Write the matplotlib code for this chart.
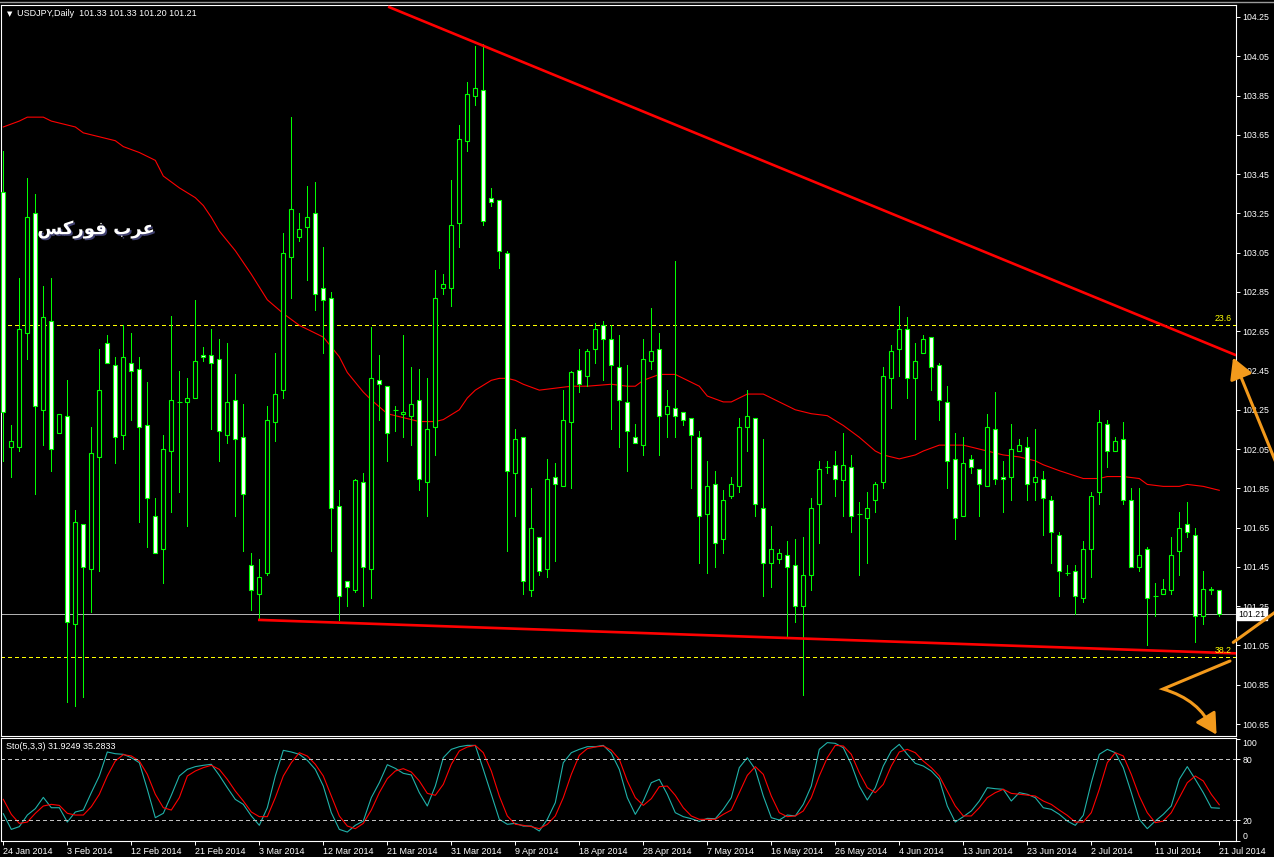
import matplotlib.pyplot as plt
import matplotlib.patheffects as pe
import matplotlib.transforms as mtransforms
from matplotlib.patches import FancyArrowPatch, PathPatch
from matplotlib.path import Path
import numpy as np

plt.rcParams['font.family'] = ['Liberation Sans', 'DejaVu Sans']

# USDJPY daily bars, oldest first
opens = [103.36, 102.06, 102.06, 102.64, 103.25, 102.25, 102.70, 102.13, 102.22, 101.16,
         101.67, 101.44, 102.01, 102.59, 102.48, 102.12, 102.49, 102.46, 102.17, 101.71,
         101.54, 102.04, 102.29, 102.29, 102.31, 102.53, 102.53, 102.51, 102.12, 102.30,
         102.11, 101.46, 101.31, 101.42, 102.19, 102.35, 103.03, 103.13, 103.18, 103.25,
         102.87, 102.82, 101.76, 101.38, 101.33, 101.88, 101.44, 102.40, 102.37, 102.25,
         102.23, 102.22, 102.30, 101.88, 102.16, 102.87, 102.87, 103.20, 103.62, 103.85,
         103.88, 103.33, 103.32, 103.05, 101.93, 102.11, 101.33, 101.60, 101.44, 101.91,
         101.86, 102.19, 102.45, 102.42, 102.56, 102.68, 102.61, 102.47, 102.29, 102.11,
         102.07, 102.50, 102.56, 102.23, 102.26, 102.24, 102.21, 102.11, 101.72, 101.87,
         101.59, 101.81, 101.86, 102.16, 102.21, 101.75, 101.47, 101.49, 101.51, 101.46,
         101.25, 101.41, 101.77, 101.96, 101.97, 101.89, 101.96, 101.72, 101.70, 101.79,
         101.88, 102.41, 102.56, 102.66, 102.41, 102.54, 102.62, 102.48, 102.29, 102.00,
         101.71, 102.00, 101.95, 101.86, 102.15, 101.91, 101.91, 102.04, 102.06, 101.88,
         101.90, 101.79, 101.61, 101.42, 101.43, 101.29, 101.54, 101.83, 102.18, 102.04,
         102.10, 101.79, 101.45, 101.54, 101.30, 101.31, 101.33, 101.53, 101.67, 101.61,
         101.20, 101.33, 101.33]
highs = [103.57, 102.17, 102.92, 103.43, 103.35, 102.88, 102.92, 102.23, 102.40, 101.74,
         101.67, 102.16, 102.56, 102.63, 102.52, 102.68, 102.64, 102.52, 102.39, 101.80,
         102.12, 102.73, 102.45, 102.41, 102.81, 102.57, 102.66, 102.61, 102.59, 102.43,
         102.28, 101.52, 101.49, 102.27, 102.54, 103.15, 103.74, 103.25, 103.39, 103.41,
         103.08, 102.85, 101.84, 101.38, 101.90, 101.93, 102.67, 102.53, 102.37, 102.27,
         102.63, 102.47, 102.46, 102.41, 102.96, 102.94, 103.42, 103.70, 103.92, 104.10,
         104.11, 103.38, 103.32, 103.06, 102.15, 102.11, 101.85, 101.60, 102.00, 101.98,
         102.35, 102.45, 102.56, 102.56, 102.69, 102.70, 102.68, 102.63, 102.48, 102.18,
         102.61, 102.77, 102.64, 102.35, 103.01, 102.24, 102.21, 102.14, 101.99, 101.94,
         101.84, 101.91, 102.21, 102.35, 102.21, 102.10, 101.66, 101.54, 101.58, 101.59,
         101.60, 101.80, 101.99, 101.99, 102.04, 102.13, 102.02, 101.78, 101.83, 101.88,
         102.47, 102.58, 102.78, 102.72, 102.59, 102.63, 102.62, 102.49, 102.37, 102.13,
         102.11, 102.02, 101.95, 102.23, 102.34, 101.99, 102.18, 102.10, 102.11, 102.15,
         101.94, 101.81, 101.63, 101.46, 101.46, 101.58, 101.83, 102.25, 102.20, 102.11,
         102.19, 101.85, 101.85, 101.55, 101.37, 101.39, 101.60, 101.73, 101.78, 101.65,
         101.43, 101.35, 101.33]
lows = [101.99, 101.91, 102.04, 102.51, 101.82, 102.07, 101.94, 102.13, 100.76, 100.74,
        100.79, 101.22, 101.43, 102.49, 101.98, 102.05, 102.20, 101.68, 101.55, 101.52,
        101.37, 101.73, 101.83, 101.66, 102.31, 102.50, 102.15, 101.99, 102.08, 101.71,
        101.53, 101.23, 101.18, 101.41, 102.09, 102.31, 102.82, 103.11, 102.91, 102.76,
        102.54, 101.53, 101.18, 101.25, 101.32, 101.25, 101.29, 102.20, 101.99, 102.14,
        102.11, 102.07, 101.84, 101.71, 102.02, 102.84, 102.78, 103.08, 103.57, 103.80,
        103.19, 103.29, 102.97, 101.53, 101.71, 101.31, 101.30, 101.41, 101.40, 101.48,
        101.86, 101.85, 102.34, 102.37, 102.49, 102.40, 102.15, 102.06, 101.94, 102.08,
        102.02, 102.46, 102.02, 102.11, 102.11, 102.17, 101.85, 101.47, 101.42, 101.45,
        101.52, 101.80, 101.83, 102.04, 101.71, 101.30, 101.35, 101.47, 101.09, 101.17,
        100.80, 101.33, 101.57, 101.93, 101.81, 101.71, 101.63, 101.41, 101.47, 101.73,
        101.85, 102.26, 102.42, 102.31, 102.10, 102.54, 102.35, 102.20, 101.85, 101.59,
        101.71, 101.93, 101.71, 101.86, 101.87, 101.73, 101.79, 102.04, 101.79, 101.79,
        101.61, 101.47, 101.30, 101.41, 101.21, 101.27, 101.40, 101.77, 101.96, 102.04,
        101.77, 101.45, 101.43, 101.05, 101.20, 101.31, 101.31, 101.41, 101.60, 101.07,
        101.16, 101.31, 101.20]
closes = [102.24, 102.09, 102.66, 103.23, 102.27, 102.72, 102.05, 102.23, 101.17, 101.68,
          101.45, 102.03, 102.35, 102.49, 102.11, 102.52, 102.45, 102.16, 101.80, 101.52,
          102.05, 102.30, 102.29, 102.31, 102.50, 102.52, 102.49, 102.14, 102.29, 102.10,
          101.82, 101.33, 101.40, 102.20, 102.33, 103.05, 103.27, 103.17, 103.23, 102.84,
          102.81, 101.75, 101.30, 101.35, 101.89, 101.45, 102.41, 102.38, 102.13, 102.25,
          102.24, 102.28, 101.90, 102.15, 102.82, 102.89, 103.19, 103.63, 103.86, 103.89,
          103.21, 103.31, 103.06, 101.94, 102.10, 101.38, 101.65, 101.43, 101.90, 101.87,
          102.20, 102.44, 102.38, 102.55, 102.66, 102.61, 102.48, 102.30, 102.14, 102.08,
          102.51, 102.55, 102.22, 102.27, 102.22, 102.20, 102.12, 101.71, 101.86, 101.57,
          101.79, 101.87, 102.16, 102.22, 101.77, 101.47, 101.54, 101.52, 101.45, 101.25,
          101.41, 101.75, 101.95, 101.96, 101.90, 101.97, 101.71, 101.72, 101.75, 101.87,
          102.42, 102.55, 102.66, 102.41, 102.50, 102.61, 102.47, 102.30, 101.99, 101.70,
          101.98, 101.96, 101.87, 102.16, 101.90, 101.90, 102.05, 102.07, 101.87, 101.91,
          101.80, 101.63, 101.43, 101.42, 101.30, 101.54, 101.81, 102.19, 102.04, 102.09,
          101.79, 101.45, 101.51, 101.29, 101.30, 101.34, 101.51, 101.65, 101.63, 101.20,
          101.34, 101.34, 101.21]

date_labels = ['24 Jan 2014', '3 Feb 2014', '12 Feb 2014', '21 Feb 2014', '3 Mar 2014',
               '12 Mar 2014', '21 Mar 2014', '31 Mar 2014', '9 Apr 2014', '18 Apr 2014',
               '28 Apr 2014', '7 May 2014', '16 May 2014', '26 May 2014', '4 Jun 2014',
               '13 Jun 2014', '23 Jun 2014', '2 Jul 2014', '11 Jul 2014', '21 Jul 2014']
label_every = 8

# moving average (red thin line), read at these bars
ma_bar = [0, 2, 3, 5, 6, 8, 9, 10, 12, 14, 15, 17, 19, 20, 22, 24, 25, 26, 27, 29,
          31, 33, 35, 37, 38, 40, 42, 43, 45, 46, 48, 50, 52, 54, 55, 57, 58, 59, 61, 62,
          63, 64, 65, 67, 69, 71, 73, 76, 78, 79, 80, 82, 84, 85, 87, 88, 90, 91, 92, 93,
          95, 97, 99, 101, 103, 105, 107, 109, 110, 112, 114, 115, 117, 119, 120, 122, 124, 125, 127, 129,
          130, 132, 135, 137, 138, 140, 142, 143, 145, 147, 148, 150, 152]
ma_val = [103.69, 103.72, 103.74, 103.74, 103.72, 103.70, 103.69, 103.66, 103.64, 103.62,
          103.59, 103.56, 103.52, 103.44, 103.38, 103.33, 103.29, 103.23, 103.16, 103.06,
          102.94, 102.81, 102.74, 102.68, 102.66, 102.62, 102.52, 102.44, 102.34, 102.30,
          102.23, 102.21, 102.19, 102.19, 102.20, 102.25, 102.31, 102.35, 102.40, 102.41,
          102.41, 102.40, 102.38, 102.35, 102.36, 102.37, 102.37, 102.38, 102.37, 102.37,
          102.40, 102.43, 102.43, 102.41, 102.37, 102.32, 102.29, 102.29, 102.31, 102.33,
          102.33, 102.29, 102.25, 102.23, 102.22, 102.17, 102.11, 102.04, 102.02, 102.00,
          102.02, 102.04, 102.07, 102.07, 102.07, 102.05, 102.03, 102.02, 102.01, 101.99,
          101.97, 101.94, 101.90, 101.90, 101.91, 101.91, 101.90, 101.87, 101.86, 101.86,
          101.87, 101.86, 101.84]

# Sto(5,3,3): main and signal
sto_main = [26.5, 11.1, 13.8, 25.2, 31.5, 42.6, 32.4, 32.4, 18.3, 28.2,
            30.1, 47.2, 63.6, 87.2, 85.5, 84.9, 81.6, 76.7, 50.5, 22.6,
            26.9, 44.6, 63.6, 70.1, 72.8, 74.1, 75.1, 64.2, 52.1, 40.6,
            35.7, 24.3, 15.1, 32.4, 63.6, 88.8, 87.2, 84.9, 79.0, 70.1,
            53.7, 27.5, 11.1, 8.5, 15.1, 19.3, 42.3, 57.0, 74.7, 71.1,
            66.2, 64.6, 47.2, 34.1, 53.7, 81.6, 89.8, 92.4, 93.7, 93.7,
            70.1, 45.6, 21.0, 16.1, 17.0, 14.4, 14.4, 9.5, 21.0, 37.4,
            76.7, 86.5, 89.8, 92.4, 92.4, 93.7, 86.0, 70.1, 42.3, 25.9,
            39.0, 57.0, 60.3, 45.6, 27.5, 23.6, 21.6, 19.0, 21.9, 21.6,
            30.8, 42.3, 71.8, 81.6, 70.1, 43.9, 22.6, 20.3, 25.2, 24.3,
            35.7, 53.7, 89.8, 96.4, 95.7, 91.4, 75.1, 53.7, 40.0, 52.1,
            73.4, 88.2, 94.7, 84.9, 76.0, 73.4, 68.5, 60.3, 34.1, 18.3,
            23.6, 29.2, 39.0, 52.1, 51.1, 50.5, 39.0, 47.2, 45.6, 42.3,
            32.4, 30.8, 25.9, 19.3, 15.1, 24.9, 57.0, 84.9, 89.8, 86.5,
            71.8, 47.2, 21.0, 11.8, 19.3, 25.9, 34.1, 60.3, 72.8, 60.3,
            47.2, 32.4, 31.92]
sto_signal = [40.6, 25.9, 17.0, 18.3, 26.9, 34.1, 35.7, 34.7, 26.9, 25.2,
              25.2, 33.4, 45.6, 63.6, 78.3, 84.6, 83.3, 78.3, 65.2, 45.6,
              32.4, 30.1, 42.3, 63.6, 68.5, 71.8, 74.1, 70.1, 60.3, 48.8,
              39.0, 28.2, 23.6, 23.6, 42.3, 63.6, 76.7, 86.5, 83.2, 75.1,
              63.6, 43.9, 24.3, 14.4, 11.8, 17.0, 30.1, 47.2, 61.0, 68.5,
              70.8, 67.5, 58.7, 46.5, 44.6, 55.4, 75.1, 88.2, 92.1, 93.7,
              86.5, 68.5, 43.9, 24.3, 16.1, 15.1, 13.8, 11.8, 16.1, 24.3,
              42.3, 65.2, 83.9, 90.5, 92.1, 93.1, 89.0, 80.0, 58.7, 42.3,
              34.7, 41.3, 53.1, 53.7, 44.6, 32.4, 24.3, 21.0, 21.0, 21.0,
              25.9, 30.1, 47.2, 64.2, 72.8, 65.2, 43.9, 27.5, 23.6, 24.3,
              29.2, 42.3, 63.6, 81.6, 93.7, 93.1, 84.9, 66.9, 52.1, 47.2,
              55.4, 73.4, 87.2, 89.8, 86.5, 78.3, 71.8, 63.6, 48.8, 34.1,
              24.3, 24.3, 32.4, 42.3, 47.2, 50.5, 46.5, 45.6, 44.6, 43.9,
              39.0, 35.7, 30.1, 24.9, 18.3, 18.3, 27.5, 50.5, 76.7, 86.5,
              83.3, 65.2, 43.9, 27.5, 17.7, 19.3, 27.5, 42.3, 57.0, 63.6,
              58.7, 45.6, 35.28]

fib_levels = [102.68, 100.99]
fib_names = ['23.6', '38.2']
upper_trend_bar = [48.25, 153.96]
upper_trend_val = [104.30, 102.53]
lower_trend_bar = [32, 153.96]
lower_trend_val = [101.18, 101.01]
last_price = 101.21

W, H = 1274, 857
fig = plt.figure(figsize=(W / 100, H / 100), dpi=100, facecolor='black')


def box(left, top, right, bottom):
    return [left / W, 1 - bottom / H, (right - left) / W, (bottom - top) / H]


ax = fig.add_axes(box(1, 5, 1236, 736), facecolor='black')
ax2 = fig.add_axes(box(1, 738, 1236, 841), facecolor='black', sharex=ax)

lime = '#00ff00'
px1 = 0.72  # one pixel in points
x = np.arange(len(closes))
o = np.array(opens)
c = np.array(closes)

# wicks, then bodies
ax.vlines(x, lows, highs, color=lime, lw=px1, zorder=3, antialiased=False)
bull = c > o
bear = c < o
ax.bar(x[bull], (c - o)[bull], bottom=o[bull], width=0.5, facecolor='black',
       edgecolor=lime, lw=0.8, zorder=4)
ax.bar(x[bear], (o - c)[bear], bottom=c[bear], width=0.5, facecolor='white',
       edgecolor=lime, lw=0.8, zorder=4)
doji = c == o
ax.hlines(c[doji], x[doji] - 0.3, x[doji] + 0.3, color=lime, lw=0.8, zorder=4)

ax.plot(ma_bar, ma_val, color='red', lw=0.8, zorder=2)
ax.plot(upper_trend_bar, upper_trend_val, color='red', lw=1.9, zorder=5)
ax.plot(lower_trend_bar, lower_trend_val, color='red', lw=1.9, zorder=5)

for lvl, name in zip(fib_levels, fib_names):
    ax.axhline(lvl, color='#ffff00', lw=px1, ls=(0, (4, 3)), zorder=1, antialiased=False)
    ax.text(153.6, lvl + 0.012, name, color='#ffff00', fontsize=6.3,
            ha='right', va='bottom', zorder=6)

ax.axhline(last_price, color='#b0b0b0', lw=px1, zorder=1, antialiased=False)

ax.set_xlim(-0.29, 154.09)
ax.set_ylim(100.589, 104.311)
price_ticks = np.arange(100.65, 104.26, 0.2)
ax.set_yticks(price_ticks)
ax.set_yticklabels(['%.2f' % t for t in price_ticks])
ax.yaxis.tick_right()
ax.tick_params(axis='y', colors='white', labelsize=6.3, length=3, width=0.7, pad=1.5)
ax.tick_params(axis='x', bottom=False, labelbottom=False)
for s in ax.spines.values():
    s.set_color('white')
    s.set_linewidth(0.8)

ax.text(1.002, last_price, '%.2f' % last_price, transform=ax.get_yaxis_transform(),
        fontsize=6.3, color='black', ha='left', va='center', clip_on=False, zorder=7,
        bbox=dict(boxstyle='square,pad=0.15', facecolor='white', edgecolor='white'))

ax.text(0.005, 0.988, '\u25bc', transform=ax.transAxes, color='white', fontsize=5,
        ha='left', va='center', family=['DejaVu Sans'])
ax.text(0.013, 0.988, 'USDJPY,Daily  %.2f %.2f %.2f %.2f' % (opens[-1], highs[-1], lows[-1], closes[-1]),
        transform=ax.transAxes, color='white', fontsize=6.5, ha='left', va='center')

# Arabic watermark (presentation forms in visual order)
ax.text(0.077, 0.693, '\uFEB2\uFEDB\uFEAD\uFEEE\uFED3 \uFE8F\uFEAE\uFECB',
        transform=ax.transAxes, color='white', fontsize=13, fontweight='bold',
        family=['DejaVu Sans'], ha='center', va='center', zorder=8,
        path_effects=[pe.withSimplePatchShadow(offset=(1.2, -1.2), shadow_rgbFace='#404070', alpha=1)])

# stochastic panel
ax2.plot(x, sto_main, color='#20b2aa', lw=0.8)
ax2.plot(x, sto_signal, color='red', lw=0.8)
for lvl in (20, 80):
    ax2.axhline(lvl, color='#c0c0c0', lw=px1, ls=(0, (3, 3)), antialiased=False)
ax2.set_ylim(-0.32, 100.95)
ax2.set_yticks([0, 20, 80, 100])
ax2.set_yticklabels(['0', '20', '80', '100'])
ax2.yaxis.tick_right()
ax2.tick_params(axis='y', colors='white', labelsize=6.3, length=3, width=0.7, pad=1.5)
ylabs = ax2.get_yticklabels()
ylabs[0].set_va('bottom')
ylabs[-1].set_va('top')
ticks_x = np.arange(0, len(closes), label_every)
ax2.set_xticks(ticks_x)
ax2.set_xticklabels(date_labels, ha='left')
ax2.tick_params(axis='x', colors='white', labelsize=6.5, length=3, width=0.7, pad=1.5)
for s in ax2.spines.values():
    s.set_color('white')
    s.set_linewidth(0.8)
ax2.text(0.004, 0.92, 'Sto(5,3,3) %.4f %.4f' % (31.9249, 35.2833), transform=ax2.transAxes,
         color='white', fontsize=6.5, ha='left', va='center')

# hand-drawn orange arrows (figure pixel coordinates, origin top-left)
fig_px = mtransforms.Affine2D().scale(1 / W, -1 / H).translate(0, 1) + fig.transFigure
orange = '#f39a1c'
fig.add_artist(FancyArrowPatch((1292, 502), (1232, 355), transform=fig_px,
                               arrowstyle='-|>,head_length=0.9,head_width=0.5',
                               mutation_scale=14, color=orange, lw=2.2))
fig.add_artist(FancyArrowPatch((1292, 600), (1231, 644), transform=fig_px,
                               arrowstyle='-', color=orange, lw=2.2))
curve = Path([(1230, 661), (1163, 689), (1200, 700), (1212, 729)],
             [Path.MOVETO, Path.LINETO, Path.CURVE3, Path.CURVE3])
fig.add_artist(PathPatch(curve, transform=fig_px, fill=False, edgecolor=orange,
                         lw=2.2, capstyle='round', joinstyle='miter'))
fig.add_artist(FancyArrowPatch((1210, 724), (1218, 737), transform=fig_px,
                               arrowstyle='-|>,head_length=0.9,head_width=0.5',
                               mutation_scale=14, color=orange, lw=2.0))

fig.add_artist(plt.Line2D([0, 1], [1 - 2 / H, 1 - 2 / H], transform=fig.transFigure,
                          color='#9a9a9a', lw=1))

fig.savefig('out.png', dpi=100, facecolor='black')
